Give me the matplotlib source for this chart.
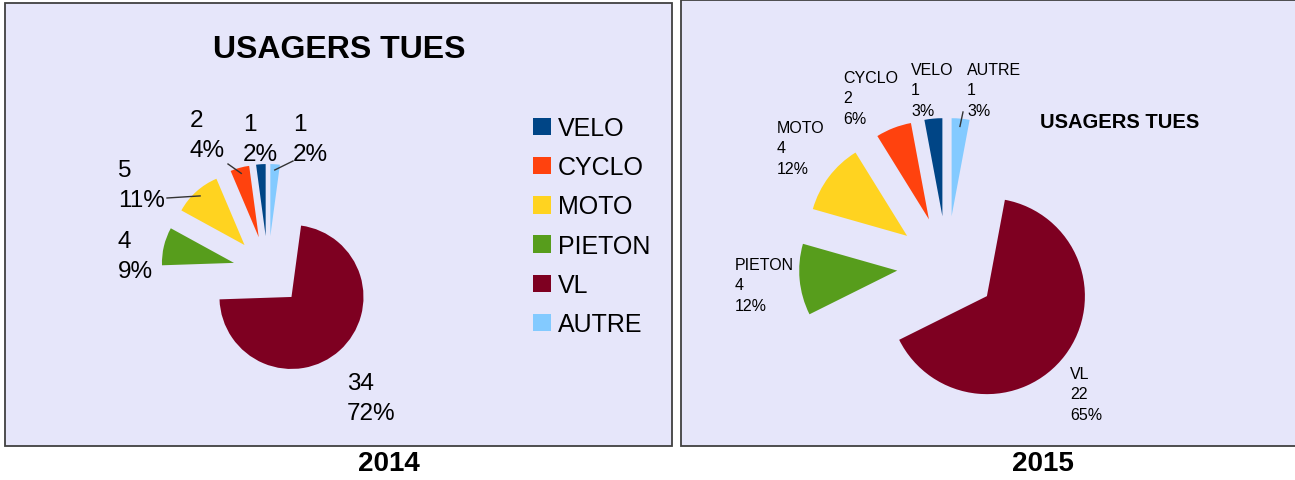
import math
import matplotlib
matplotlib.use("Agg")
from matplotlib import pyplot as plt
from matplotlib.patches import Rectangle

# data
categories = ['VELO', 'CYCLO', 'MOTO', 'PIETON', 'VL', 'AUTRE']
colors = ['#004586', '#ff420e', '#ffd320', '#579d1c', '#7e0021', '#83caff']
values_2014 = [1, 2, 5, 4, 34, 1]
values_2015 = [1, 2, 4, 4, 22, 1]
title = 'USAGERS TUES'
years = ['2014', '2015']

W, H = 1295, 481
FONT = 'Liberation Sans'


def Y(p):
    # pixel row -> data y (y up)
    return H - p


def pcts(vals):
    tot = sum(vals)
    return [int(round(100.0 * v / tot)) for v in vals]


def outer_point(w, frac=0.92):
    th = math.radians((w.theta1 + w.theta2) / 2)
    cx, cy = w.center
    return cx + frac * w.r * math.cos(th), cy + frac * w.r * math.sin(th)


fig = plt.figure(figsize=(W / 100, H / 100), dpi=100)
ax = fig.add_axes([0, 0, 1, 1])

# panels
ax.add_patch(Rectangle((5, Y(447)), 667, 443, facecolor='#e6e6fa', edgecolor='#404040', lw=1.3))
ax.add_patch(Rectangle((681, Y(447)), 640, 446, facecolor='#e6e6fa', edgecolor='#404040', lw=1.3))

# ---- 2014 ----
w14, _ = ax.pie(values_2014, colors=colors, startangle=90, counterclock=True,
                center=(268, Y(272)), radius=72, explode=[35] * 6, frame=True,
                wedgeprops=dict(linewidth=0))
p14 = pcts(values_2014)
lab14 = {  # top-left of label text (pixels)
    'VELO': (243, 114), 'AUTRE': (293, 114), 'CYCLO': (190, 110),
    'MOTO': (118, 160), 'PIETON': (118, 231), 'VL': (347, 373),
}
for i, c in enumerate(categories):
    x, y = lab14[c]
    ax.text(x, Y(y), '{}\n{}%'.format(values_2014[i], p14[i]), ha='left', va='top',
            fontsize=17.5, family=FONT, linespacing=1.45)
leaders14 = {'CYCLO': (228, 165), 'AUTRE': (293, 162), 'MOTO': (167, 199)}
for c, (x, y) in leaders14.items():
    ex, ey = outer_point(w14[categories.index(c)])
    ax.plot([x, ex], [Y(y), ey], color='#333333', lw=1)

ax.text(339, Y(50), title, ha='center', va='center', fontsize=23, fontweight='bold', family=FONT)
leg = ax.legend(w14, categories, loc='upper left', bbox_to_anchor=(533, Y(117)),
                bbox_transform=ax.transData, frameon=False, borderpad=0, borderaxespad=0,
                handlelength=0.7, handleheight=0.7, handletextpad=0.28,
                labelspacing=0.61, prop={'family': FONT, 'size': 18})

# ---- 2015 ----
w15, _ = ax.pie(values_2015, colors=colors, startangle=90, counterclock=True,
                center=(947, Y(267)), radius=98, explode=[50] * 6, frame=True,
                wedgeprops=dict(linewidth=0))
p15 = pcts(values_2015)
lab15 = {
    'VELO': (911, 63), 'AUTRE': (967, 63), 'CYCLO': (843, 71),
    'MOTO': (777, 121), 'PIETON': (735, 258), 'VL': (1070, 367),
}
for i, c in enumerate(categories):
    x, y = lab15[c]
    ax.text(x, Y(y), '{}\n{}\n{}%'.format(c, values_2015[i], p15[i]), ha='left', va='top',
            fontsize=11.5, family=FONT, linespacing=1.45)
ex, ey = outer_point(w15[categories.index('AUTRE')])
ax.plot([963, ex], [Y(113), ey], color='#333333', lw=1)

ax.text(1120, Y(122), title, ha='center', va='center', fontsize=14.5, fontweight='bold', family=FONT)

# years under panels
ax.text(389, Y(464), years[0], ha='center', va='center', fontsize=20, fontweight='bold', family=FONT)
ax.text(1043, Y(464), years[1], ha='center', va='center', fontsize=20, fontweight='bold', family=FONT)

ax.set_xlim(0, W)
ax.set_ylim(0, H)
ax.set_aspect('auto')
ax.axis('off')
fig.savefig('out.png', dpi=100, facecolor='white')
